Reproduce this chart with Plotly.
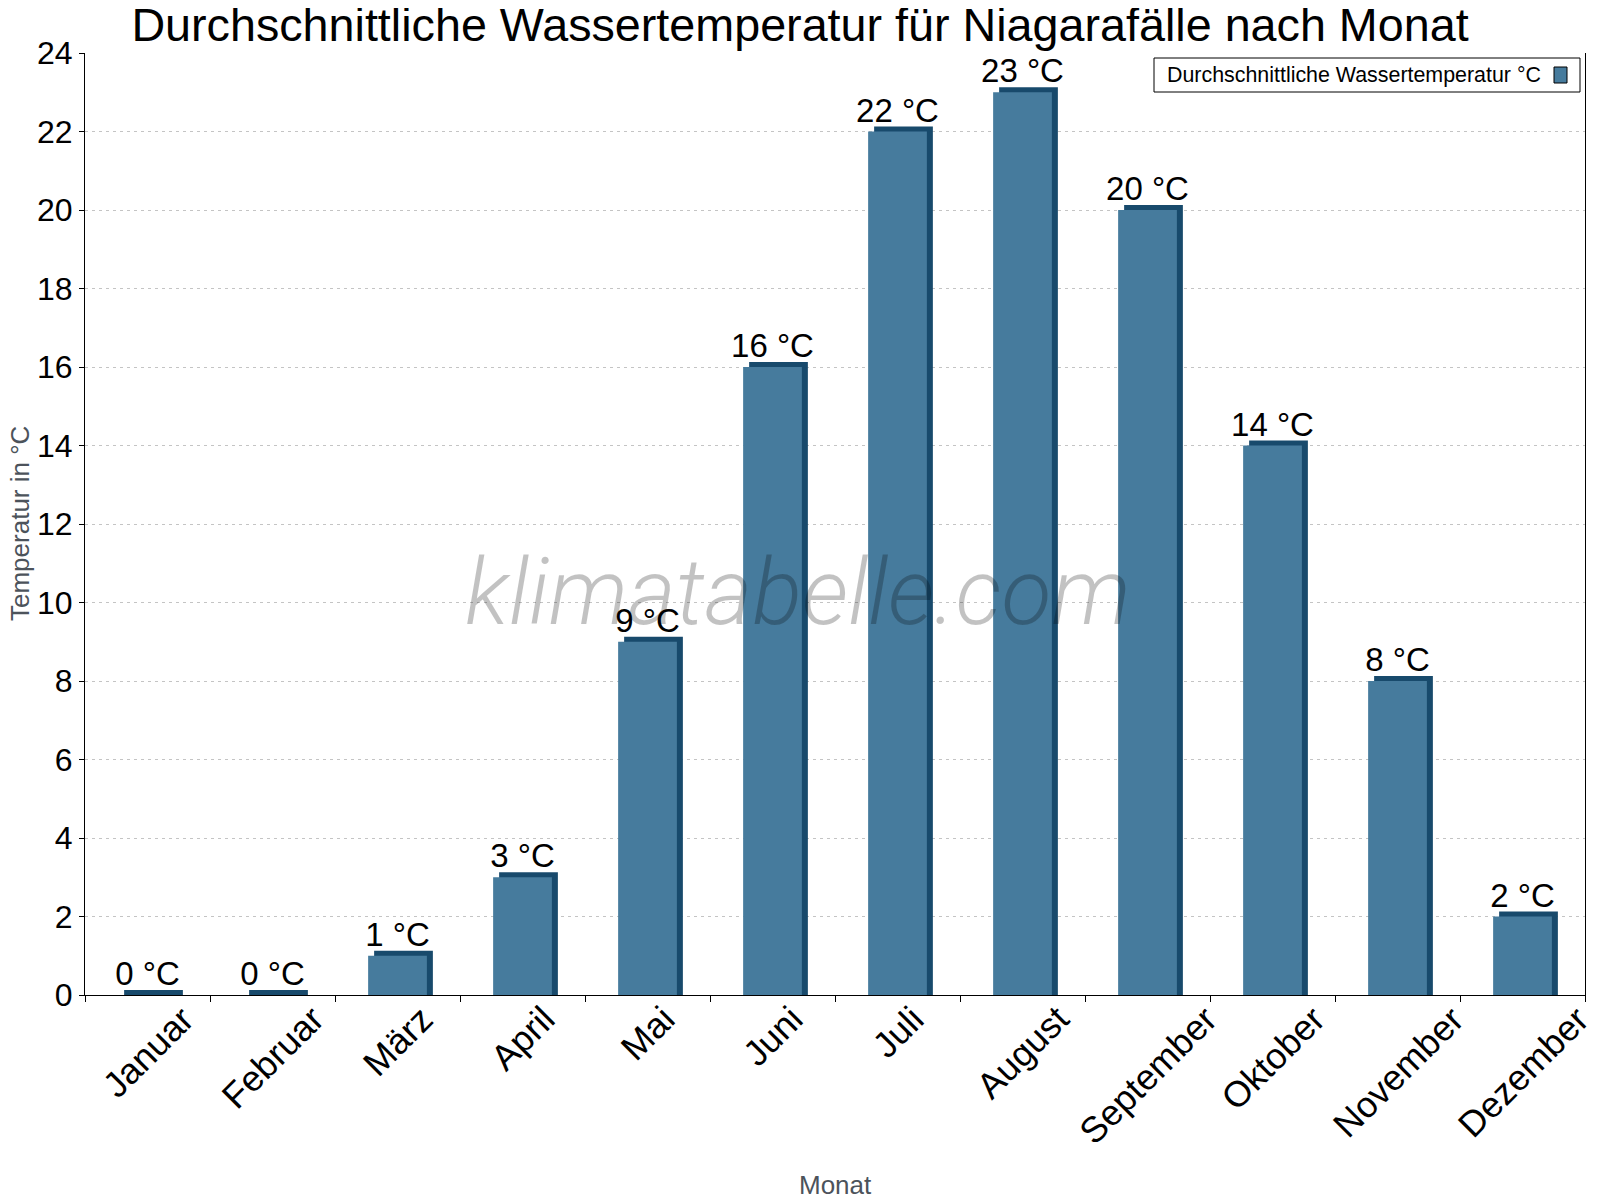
import plotly.graph_objects as go

# Monatsdaten
months = ["Januar", "Februar", "März", "April", "Mai", "Juni", "Juli",
          "August", "September", "Oktober", "November", "Dezember"]
water_temp = [0, 0, 1, 3, 9, 16, 22, 23, 20, 14, 8, 2]
value_labels = [f"{v} °C" for v in water_temp]

series_name = "Durchschnittliche Wassertemperatur °C"
title_text = "Durchschnittliche Wassertemperatur für Niagarafälle nach Monat"

FACE = "#467b9d"
DARK = "#184a6c"
FONT = "Liberation Sans, Arial, sans-serif"

bar_w = 0.47
depth_x = 0.048   # seitlicher 3D-Versatz (Kategorien-Einheiten)
depth_y = 0.13    # oberer 3D-Versatz (Achsen-Einheiten)

# dunkle "Tiefe" hinter den Balken
back = go.Bar(
    x=months,
    y=[v + depth_y for v in water_temp],
    width=bar_w,
    offset=-bar_w / 2 + depth_x,
    marker=dict(color=DARK, line=dict(width=0)),
    hoverinfo="skip",
    showlegend=False,
)

# Vorderseite mit Beschriftung
front = go.Bar(
    x=months,
    y=water_temp,
    width=bar_w,
    offset=-bar_w / 2,
    marker=dict(color=FACE, line=dict(width=0)),
    text=value_labels,
    textposition="outside",
    constraintext="none",
    textfont=dict(family=FONT, size=33, color="black"),
    cliponaxis=False,
    name=series_name,
    showlegend=False,
)

fig = go.Figure(data=[back, front])

# Zeichenfläche in Seitenpixeln (die Seite hat 8 px Rand)
W, H, O = 1600, 1200, 8
X0, X1, Y0, Y1 = 85, 1585, 53, 995


def px(x):
    return (x - X0) / (X1 - X0)


def py(y):
    return (Y1 - y) / (Y1 - Y0)


fig.update_layout(
    width=W,
    height=H,
    margin=dict(l=X0 - O, r=W - (X1 - O), t=Y0 - O, b=H - (Y1 - O)),
    paper_bgcolor="white",
    plot_bgcolor="white",
    barmode="overlay",
    font=dict(family=FONT, color="black"),
    title=dict(
        text=title_text,
        x=(800 - O) / W,
        xref="container",
        y=1 - (25 - O) / H,
        yref="container",
        yanchor="middle",
        font=dict(family=FONT, size=46.7, color="black"),
    ),
    xaxis=dict(
        showline=True,
        linecolor="black",
        linewidth=1,
        ticks="outside",
        tickson="boundaries",
        ticklen=6,
        tickcolor="black",
        showticklabels=False,
        showgrid=False,
        range=[-0.5, 11.5],
    ),
    yaxis=dict(
        range=[0, 24],
        dtick=2,
        showline=True,
        linecolor="black",
        linewidth=1,
        mirror=True,
        ticks="outside",
        ticklen=5,
        tickcolor="black",
        tickfont=dict(family=FONT, size=32, color="black"),
        showgrid=True,
        gridcolor="#c4c4c4",
        griddash="3px,4px",
        gridwidth=1,
        zeroline=False,
    ),
)

# Monatsnamen, schräg und mittig unter der Kategorie
for m in months:
    fig.add_annotation(
        text=m, xref="x", yref="paper",
        x=m, y=py(996), xanchor="center", yanchor="top",
        textangle=-45, showarrow=False,
        font=dict(family=FONT, size=36, color="black"),
    )

# Achsentitel
fig.add_annotation(
    text="Monat", xref="paper", yref="paper",
    x=0.5, y=py(1202), xanchor="center", yanchor="bottom",
    showarrow=False, font=dict(family=FONT, size=26, color="#4c535b"),
)
fig.add_annotation(
    text="Temperatur in °C", xref="paper", yref="paper",
    x=px(20), y=0.5, xanchor="center", yanchor="middle", textangle=-90,
    showarrow=False, font=dict(family=FONT, size=26, color="#4c535b"),
)

# Wasserzeichen
fig.add_annotation(
    text="klimatabelle.com", xref="paper", yref="paper",
    x=px(798), y=py(592), xanchor="center", yanchor="middle",
    showarrow=False,
    font=dict(family="Roboto", size=92, color="rgba(0,0,0,0.24)",
              style="italic", weight=300),
)

# Legende (Farbfeld rechts vom Text)
fig.add_shape(
    type="rect", xref="paper", yref="paper",
    x0=px(1154), x1=px(1580), y0=py(92), y1=py(58),
    line=dict(color="black", width=1), fillcolor="white", layer="above",
)
fig.add_shape(
    type="rect", xref="paper", yref="paper",
    x0=px(1554), x1=px(1567), y0=py(83), y1=py(67),
    line=dict(color="black", width=1), fillcolor=FACE, layer="above",
)
fig.add_annotation(
    text=series_name, xref="paper", yref="paper",
    x=px(1165), y=py(75), xanchor="left", yanchor="middle",
    showarrow=False, font=dict(family=FONT, size=21.4, color="black"),
)

fig.write_html("out.html")
